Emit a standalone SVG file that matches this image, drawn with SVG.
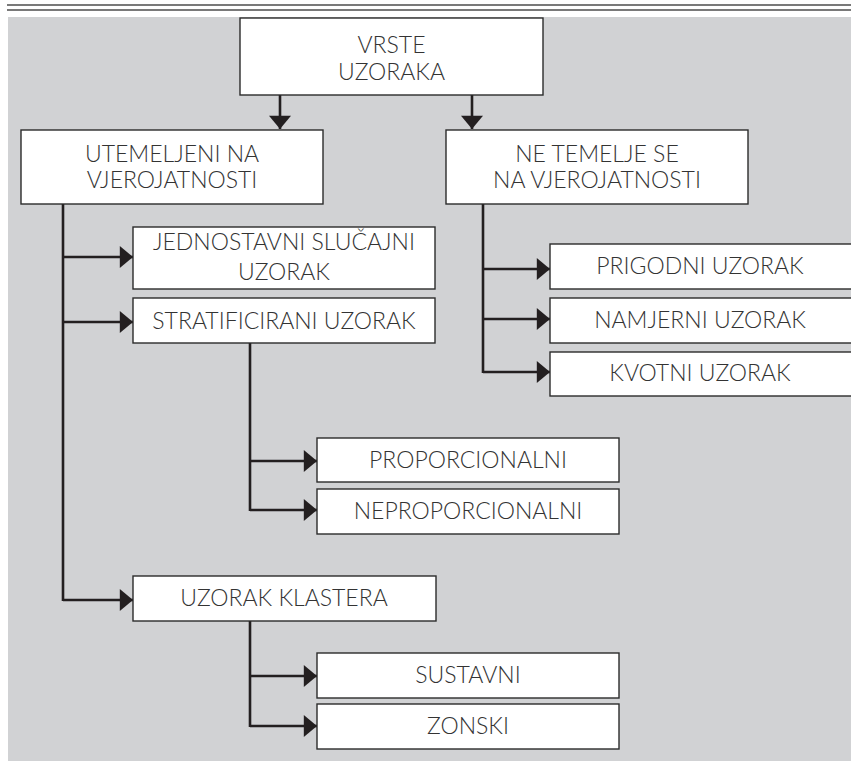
<svg xmlns="http://www.w3.org/2000/svg" width="851" height="765" viewBox="0 0 851 765">
<style>
.bg{fill:#d1d2d4}
.box{fill:#ffffff;stroke:#2b2b2b;stroke-width:1.4}
.t{font-family:Lato,"Open Sans","Liberation Sans",sans-serif;font-weight:300;font-size:23px;fill:#333333;text-anchor:middle}
.c{fill:none;stroke:#231f20;stroke-width:2.6}
.rule{stroke:#4d4d4d;stroke-width:1.6}
</style>
<defs>
<marker id="ah" markerUnits="userSpaceOnUse" markerWidth="14" markerHeight="22" viewBox="0 0 12 20" refX="12" refY="10" orient="auto">
<path d="M0,0 L12,10 L0,20 Z" fill="#231f20"/>
</marker>
</defs>
<line class="rule" x1="7" y1="5" x2="851" y2="5"/>
<line class="rule" x1="7" y1="10" x2="851" y2="10"/>
<rect class="bg" x="8" y="17" width="843" height="744"/>

<g id="connectors">
<line class="c" x1="280" y1="95" x2="280" y2="129" marker-end="url(#ah)"/>
<line class="c" x1="472" y1="95" x2="472" y2="129" marker-end="url(#ah)"/>
<path class="c" d="M63,204 V601"/>
<line class="c" x1="62" y1="257" x2="133" y2="257" marker-end="url(#ah)"/>
<line class="c" x1="62" y1="322" x2="133" y2="322" marker-end="url(#ah)"/>
<path class="c" d="M63,600 H133" marker-end="url(#ah)"/>
<path class="c" d="M250,343 V511"/>
<line class="c" x1="249" y1="461" x2="317" y2="461" marker-end="url(#ah)"/>
<path class="c" d="M250,510 H317" marker-end="url(#ah)"/>
<path class="c" d="M250,621 V727"/>
<line class="c" x1="249" y1="676" x2="317" y2="676" marker-end="url(#ah)"/>
<path class="c" d="M250,726 H317" marker-end="url(#ah)"/>
<path class="c" d="M483,204 V373"/>
<line class="c" x1="482" y1="269" x2="550" y2="269" marker-end="url(#ah)"/>
<line class="c" x1="482" y1="319" x2="550" y2="319" marker-end="url(#ah)"/>
<path class="c" d="M483,372 H550" marker-end="url(#ah)"/>
</g>

<g id="vrste">
<rect class="box" x="240" y="18" width="303" height="77"/>
<text class="t" x="391.5" y="53">VRSTE</text>
<text class="t" x="391.5" y="80">UZORAKA</text>
</g>
<g id="utemeljeni">
<rect class="box" x="21" y="130" width="302" height="74"/>
<text class="t" x="172" y="162">UTEMELJENI NA</text>
<text class="t" x="172" y="188">VJEROJATNOSTI</text>
</g>
<g id="ne-temelje">
<rect class="box" x="446" y="130" width="302" height="74"/>
<text class="t" x="597" y="162">NE TEMELJE SE</text>
<text class="t" x="597" y="188">NA VJEROJATNOSTI</text>
</g>
<g id="jednostavni">
<rect class="box" x="133" y="227" width="302" height="62"/>
<text class="t" x="284" y="250">JEDNOSTAVNI SLUČAJNI</text>
<text class="t" x="284" y="280">UZORAK</text>
</g>
<g id="stratificirani">
<rect class="box" x="133" y="298" width="302" height="45"/>
<text class="t" x="284" y="329">STRATIFICIRANI UZORAK</text>
</g>
<g id="proporcionalni">
<rect class="box" x="317" y="438" width="302" height="44"/>
<text class="t" x="468" y="468">PROPORCIONALNI</text>
</g>
<g id="neproporcionalni">
<rect class="box" x="317" y="489" width="302" height="45"/>
<text class="t" x="468" y="519">NEPROPORCIONALNI</text>
</g>
<g id="klastera">
<rect class="box" x="133" y="576" width="303" height="45"/>
<text class="t" x="284" y="606">UZORAK KLASTERA</text>
</g>
<g id="sustavni">
<rect class="box" x="317" y="653" width="302" height="45"/>
<text class="t" x="468" y="683">SUSTAVNI</text>
</g>
<g id="zonski">
<rect class="box" x="317" y="704" width="302" height="45"/>
<text class="t" x="468" y="734">ZONSKI</text>
</g>
<g id="prigodni">
<rect class="box" x="550" y="244" width="305" height="45"/>
<text class="t" x="700" y="274">PRIGODNI UZORAK</text>
</g>
<g id="namjerni">
<rect class="box" x="550" y="298" width="305" height="45"/>
<text class="t" x="700" y="328">NAMJERNI UZORAK</text>
</g>
<g id="kvotni">
<rect class="box" x="550" y="352" width="305" height="44"/>
<text class="t" x="700" y="381">KVOTNI UZORAK</text>
</g>
</svg>
